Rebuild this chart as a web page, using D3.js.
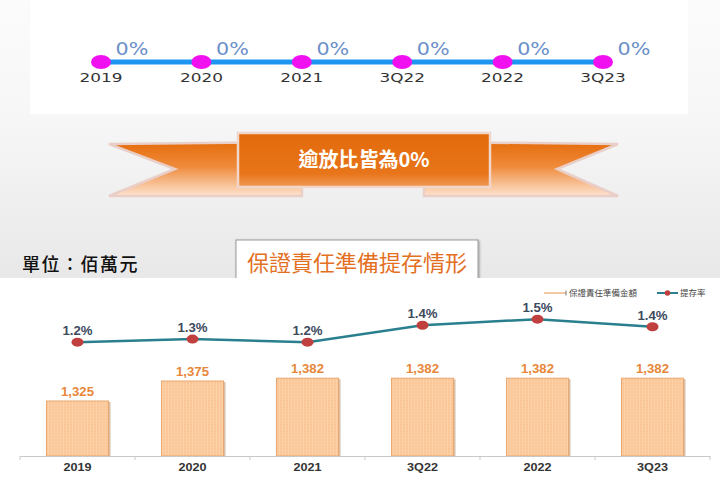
<!DOCTYPE html>
<html>
<head>
<meta charset="utf-8">
<script src="https://cdn.jsdelivr.net/npm/d3@7/dist/d3.min.js"></script>
<style>
  body { margin: 0; background: #fff; }
  svg { display: block; }
</style>
</head>
<body>
<svg id="chart" width="720" height="479"></svg>
<script>
// data
const categories = ['2019', '2020', '2021', '3Q22', '2022', '3Q23'];
const nplRatio = [0, 0, 0, 0, 0, 0];                       // 逾放比 (%)
const reserveAmount = [1325, 1375, 1382, 1382, 1382, 1382];   // 保證責任準備金額 (佰萬元)
const provisionRate = [1.22, 1.26, 1.22, 1.44, 1.52, 1.42];   // 提存率 (%)
const legendNames = ['保證責任準備金額', '提存率'];

const cjk = '"Noto Sans CJK TC", "Noto Sans", sans-serif';
const latin = '"Liberation Sans", Arial, sans-serif';

const svg = d3.select('#chart');
const defs = svg.append('defs');

// ---- backgrounds ----
const bg = defs.append('linearGradient').attr('id', 'bgGrad')
    .attr('x1', 0).attr('y1', 0).attr('x2', 0).attr('y2', 1);
bg.append('stop').attr('offset', '0%').attr('stop-color', '#fbfbfb');
bg.append('stop').attr('offset', '40%').attr('stop-color', '#f7f7f7');
bg.append('stop').attr('offset', '100%').attr('stop-color', '#e8e8e8');

svg.append('rect').attr('width', 720).attr('height', 279).attr('fill', 'url(#bgGrad)');
svg.append('rect').attr('x', 30).attr('y', 0).attr('width', 658).attr('height', 114).attr('fill', '#fff');

// ---- top timeline: 逾放比 ----
const xTop = d3.scalePoint().domain(categories).range([101, 603]);
const topY = 62;

svg.append('line')
    .attr('x1', xTop(categories[0])).attr('x2', xTop(categories[categories.length - 1]))
    .attr('y1', topY).attr('y2', topY)
    .attr('stroke', '#1e96f0').attr('stroke-width', 5);

svg.append('g').selectAll('ellipse')
    .data(categories)
    .join('ellipse')
    .attr('cx', d => xTop(d)).attr('cy', topY)
    .attr('rx', 10).attr('ry', 7)
    .attr('fill', '#f010f0');

// the slide text is stretched sideways, so scale x a bit
svg.append('g').selectAll('text')
    .data(categories)
    .join('text')
    .attr('transform', d => `translate(${xTop(d)},82) scale(1.3,1)`)
    .attr('text-anchor', 'middle')
    .style('font-family', '"DejaVu Sans", Verdana, sans-serif')
    .style('font-size', '13px')
    .style('fill', '#333')
    .text(d => d);

svg.append('g').selectAll('text')
    .data(nplRatio)
    .join('text')
    .attr('transform', (d, i) => `translate(${xTop(categories[i]) + 31},55) scale(1.15,1)`)
    .attr('text-anchor', 'middle')
    .style('font-family', '"DejaVu Sans", Verdana, sans-serif')
    .style('font-size', '18px')
    .style('fill', '#6b8fc9')
    .text(d => d + '%');

// ---- ribbon banner ----
const rib = defs.append('linearGradient').attr('id', 'ribGrad')
    .attr('x1', 0).attr('y1', 0).attr('x2', 0).attr('y2', 1);
rib.append('stop').attr('offset', '0%').attr('stop-color', '#e56d0c');
rib.append('stop').attr('offset', '45%').attr('stop-color', '#ef8a3a');
rib.append('stop').attr('offset', '100%').attr('stop-color', '#fde3cf');

const boxGrad = defs.append('linearGradient').attr('id', 'boxGrad')
    .attr('x1', 0).attr('y1', 0).attr('x2', 0).attr('y2', 1);
boxGrad.append('stop').attr('offset', '0%').attr('stop-color', '#e26a0b');
boxGrad.append('stop').attr('offset', '75%').attr('stop-color', '#e8751a');
boxGrad.append('stop').attr('offset', '100%').attr('stop-color', '#f09a55');

const line = d3.line();
svg.append('path')
    .attr('d', line([[109, 144], [302, 142], [302, 196], [109, 196], [175, 169]]) + 'Z')
    .attr('fill', 'url(#ribGrad)').attr('stroke', '#e9cfc8').attr('stroke-width', 2.5);
svg.append('path')
    .attr('d', line([[424, 142], [618, 144], [557, 169], [618, 196], [424, 196]]) + 'Z')
    .attr('fill', 'url(#ribGrad)').attr('stroke', '#e9cfc8').attr('stroke-width', 2.5);
svg.append('rect')
    .attr('x', 238).attr('y', 133).attr('width', 252).attr('height', 54)
    .attr('fill', 'url(#boxGrad)').attr('stroke', '#f1d6cc').attr('stroke-width', 2.5);
svg.append('text')
    .attr('x', 364).attr('y', 167)
    .attr('text-anchor', 'middle')
    .style('font-family', cjk).style('font-weight', 'bold').style('font-size', '20px')
    .style('fill', '#fff')
    .text('逾放比皆為0%');

// ---- middle titles ----
svg.append('text')
    .attr('x', 22).attr('y', 271)
    .style('font-family', cjk).style('font-weight', 500).style('font-size', '18px')
    .style('letter-spacing', '1.5px')
    .style('fill', '#111')
    .text('單位：佰萬元');

const shadow = defs.append('filter').attr('id', 'shadow')
    .attr('x', '-10%').attr('y', '-20%').attr('width', '120%').attr('height', '140%');
shadow.append('feDropShadow').attr('dx', 1).attr('dy', 1).attr('stdDeviation', 1.2)
    .attr('flood-color', '#000').attr('flood-opacity', 0.35);

svg.append('rect')
    .attr('x', 236).attr('y', 240).attr('width', 242).attr('height', 44)
    .attr('fill', '#fff').attr('stroke', '#9a9a9a').attr('stroke-width', 1)
    .attr('filter', 'url(#shadow)');

// chart area
svg.append('rect').attr('x', 0).attr('y', 278).attr('width', 720).attr('height', 201).attr('fill', '#fff');

svg.append('text')
    .attr('x', 357).attr('y', 271)
    .attr('text-anchor', 'middle')
    .style('font-family', cjk).style('font-size', '22px').style('font-weight', 400)
    .style('fill', '#e3701f')
    .text('保證責任準備提存情形');

// ---- combo chart ----
const xBand = d3.scaleBand().domain(categories).range([20, 710])
    .paddingInner(0.46).paddingOuter(0.23);
const yAmt = d3.scaleLinear().domain([1187.5, 1587.5]).range([456, 296]);
const yRate = d3.scaleLinear().domain([1.0, 1.6]).range([359, 313]);

const pat = defs.append('pattern').attr('id', 'barPat')
    .attr('patternUnits', 'userSpaceOnUse').attr('width', 3).attr('height', 3);
pat.append('rect').attr('width', 3).attr('height', 3).attr('fill', '#fcc595');
pat.append('rect').attr('width', 1).attr('height', 3).attr('fill', '#fdd3ab');
pat.append('rect').attr('width', 3).attr('height', 1).attr('fill', '#fbcda2');

const bars = svg.append('g');
// soft right-side shadow
bars.selectAll('rect.sh')
    .data(reserveAmount)
    .join('rect').attr('class', 'sh')
    .attr('x', (d, i) => xBand(categories[i]) + 2)
    .attr('y', d => yAmt(d) + 1)
    .attr('width', xBand.bandwidth())
    .attr('height', d => yAmt.range()[0] - yAmt(d) - 1)
    .attr('fill', '#d9c2ae');
bars.selectAll('rect.bar')
    .data(reserveAmount)
    .join('rect').attr('class', 'bar')
    .attr('x', (d, i) => xBand(categories[i]))
    .attr('y', d => yAmt(d))
    .attr('width', xBand.bandwidth())
    .attr('height', d => yAmt.range()[0] - yAmt(d))
    .attr('fill', 'url(#barPat)')
    .attr('stroke', '#e8a66e').attr('stroke-width', 1);

svg.append('g').selectAll('text')
    .data(reserveAmount)
    .join('text')
    .attr('transform', (d, i) => `translate(${xBand(categories[i]) + xBand.bandwidth() / 2},${yAmt(d) - 5}) scale(1.1,1)`)
    .attr('text-anchor', 'middle')
    .style('font-family', latin).style('font-weight', 'bold').style('font-size', '12px')
    .style('fill', '#e8873a')
    .text(d => d3.format(',')(d));

// x axis
const axis = svg.append('g')
    .attr('transform', `translate(0,${yAmt.range()[0]})`)
    .call(d3.axisBottom(xBand).tickSize(0).tickPadding(8));
axis.select('.domain').attr('stroke', '#c8c8c8');
axis.selectAll('.tick text')
    .style('font-family', latin).style('font-weight', 'bold').style('font-size', '10.5px')
    .attr('transform', 'scale(1.2,1)')
    .style('fill', '#333');
const step = xBand.step();
axis.append('g').selectAll('line')
    .data(d3.range(categories.length + 1))
    .join('line')
    .attr('x1', i => xBand.range()[0] + i * step)
    .attr('x2', i => xBand.range()[0] + i * step)
    .attr('y1', 0).attr('y2', 4)
    .attr('stroke', '#c8c8c8');

// provision rate line
const rateLine = d3.line()
    .x((d, i) => xBand(categories[i]) + xBand.bandwidth() / 2)
    .y(d => yRate(d));
svg.append('path')
    .datum(provisionRate)
    .attr('d', rateLine)
    .attr('fill', 'none')
    .attr('stroke', '#2a7f8e').attr('stroke-width', 2.5);
svg.append('g').selectAll('ellipse')
    .data(provisionRate)
    .join('ellipse')
    .attr('cx', (d, i) => xBand(categories[i]) + xBand.bandwidth() / 2)
    .attr('cy', d => yRate(d))
    .attr('rx', 6).attr('ry', 4.5)
    .attr('fill', '#c0403f');
svg.append('g').selectAll('text')
    .data(provisionRate)
    .join('text')
    .attr('transform', (d, i) => `translate(${xBand(categories[i]) + xBand.bandwidth() / 2},${yRate(d) - 7}) scale(1.1,1)`)
    .attr('text-anchor', 'middle')
    .style('font-family', latin).style('font-weight', 'bold').style('font-size', '12px')
    .style('fill', '#3d4a5e')
    .text(d => d3.format('.1f')(d) + '%');

// legend
const lg = svg.append('g').style('font-family', cjk).style('font-size', '8.5px').style('fill', '#444');
lg.append('rect').attr('x', 544).attr('y', 292).attr('width', 22).attr('height', 2)
    .attr('fill', '#f3c9a3');
lg.append('line').attr('x1', 566).attr('x2', 566).attr('y1', 290.5).attr('y2', 295.5)
    .attr('stroke', '#777').attr('stroke-width', 1);
lg.append('text').attr('x', 569).attr('y', 296).text(legendNames[0]);
lg.append('line').attr('x1', 657).attr('x2', 678).attr('y1', 293).attr('y2', 293)
    .attr('stroke', '#2a7f8e').attr('stroke-width', 2);
lg.append('circle').attr('cx', 667.5).attr('cy', 293).attr('r', 2.8).attr('fill', '#c0403f');
lg.append('text').attr('x', 680).attr('y', 296).text(legendNames[1]);
</script>
</body>
</html>
